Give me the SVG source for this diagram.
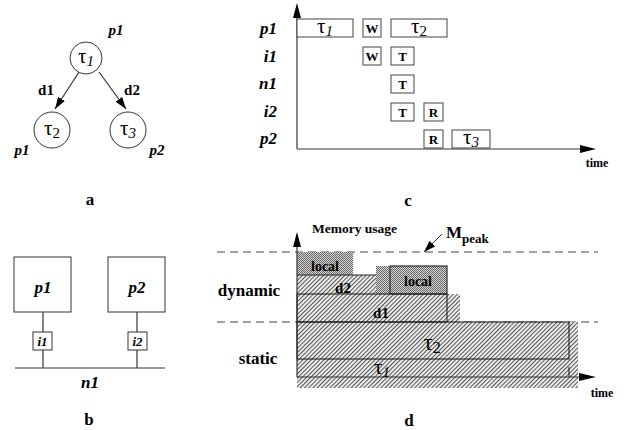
<svg xmlns="http://www.w3.org/2000/svg" width="629" height="430" viewBox="0 0 629 430">
<style>
text{font-family:"Liberation Serif","Times New Roman",serif;fill:#000}
.b{font-weight:bold}
.bi{font-weight:bold;font-style:italic}
.tau{font-size:21px}
.sub{font-size:15px}
.nd{fill:#fff;stroke:#333;stroke-width:1}
.ln{stroke:#333;stroke-width:1.2;fill:none}
.bx{fill:#fff;stroke:#444;stroke-width:1}
.bd{fill:none;stroke:#222;stroke-width:1.1}
.dash{stroke:#444;stroke-width:1;stroke-dasharray:8,5;fill:none}
</style>
<defs>
<marker id="ah" viewBox="0 0 12 8" refX="12" refY="4" markerWidth="12" markerHeight="8" markerUnits="userSpaceOnUse" orient="auto">
<path d="M0,0 L12,4 L0,8 Z" fill="#000"/>
</marker>
<pattern id="hatch" patternUnits="userSpaceOnUse" width="3" height="3" patternTransform="rotate(45)">
<rect width="3" height="3" fill="#f4f4f4"/><rect width="1.1" height="3" fill="#555"/>
</pattern>
<pattern id="cross" patternUnits="userSpaceOnUse" width="2" height="2">
<rect width="2" height="2" fill="#d6d6d6"/><rect width="1" height="1" fill="#666"/><rect x="1" y="1" width="1" height="1" fill="#666"/>
</pattern>
</defs>

<!-- Panel a -->
<g id="panel-a">
<g id="a-connectors">
<line class="ln" x1="79" y1="72" x2="55" y2="109" marker-end="url(#ah)"/>
<line class="ln" x1="99" y1="72" x2="126" y2="109" marker-end="url(#ah)"/>
<text class="b" x="46" y="95" font-size="15" text-anchor="middle">d1</text>
<text class="b" x="132" y="95" font-size="15" text-anchor="middle">d2</text>
</g>
<g id="a-tau1">
<circle class="nd" cx="86" cy="58" r="16"/>
<text class="tau" x="86" y="63" text-anchor="middle">τ<tspan class="sub" font-style="italic" dy="3">1</tspan></text>
<text class="bi" x="116" y="35" font-size="15" text-anchor="middle">p1</text>
</g>
<g id="a-tau2">
<circle class="nd" cx="52" cy="130" r="18"/>
<text class="tau" x="52" y="135" text-anchor="middle">τ<tspan class="sub" dy="3">2</tspan></text>
<text class="bi" x="22" y="155" font-size="15" text-anchor="middle">p1</text>
</g>
<g id="a-tau3">
<circle class="nd" cx="128" cy="130" r="18"/>
<text class="tau" x="128" y="135" text-anchor="middle">τ<tspan class="sub" font-style="italic" dy="3">3</tspan></text>
<text class="bi" x="157" y="155" font-size="15" text-anchor="middle">p2</text>
</g>
<text class="b" x="90" y="205" font-size="17" text-anchor="middle">a</text>
</g>

<!-- Panel b -->
<g id="panel-b">
<g id="b-connectors">
<line class="ln" x1="43" y1="312" x2="43" y2="332"/>
<line class="ln" x1="43" y1="350" x2="43" y2="368"/>
<line class="ln" x1="137" y1="312" x2="137" y2="332"/>
<line class="ln" x1="137" y1="350" x2="137" y2="368"/>
</g>
<g id="b-p1"><rect class="nd" x="14" y="257" width="57" height="55"/><text class="bi" x="43" y="293" font-size="17" text-anchor="middle">p1</text></g>
<g id="b-p2"><rect class="nd" x="108" y="257" width="57" height="55"/><text class="bi" x="137" y="293" font-size="17" text-anchor="middle">p2</text></g>
<g id="b-i1"><rect class="nd" x="33" y="332" width="19" height="18"/><text class="bi" x="42.5" y="346" font-size="13" text-anchor="middle">i1</text></g>
<g id="b-i2"><rect class="nd" x="128" y="332" width="19" height="18"/><text class="bi" x="137.5" y="346" font-size="13" text-anchor="middle">i2</text></g>
<g id="b-n1"><line class="ln" x1="15" y1="368" x2="165" y2="368"/><text class="bi" x="90" y="388" font-size="17" text-anchor="middle">n1</text></g>
<text class="b" x="89" y="425" font-size="17" text-anchor="middle">b</text>
</g>

<!-- Panel c -->
<g id="panel-c">
<line class="ln" x1="297" y1="149" x2="297" y2="15"/>
<path d="M297,3 L293,18 L301,18 Z" fill="#000"/>
<line class="ln" x1="297" y1="149" x2="582" y2="149"/>
<path d="M596,149 L580,145 L580,153 Z" fill="#000"/>
<text class="b" x="597" y="167" font-size="12" text-anchor="middle">time</text>
<g class="bi" font-size="17" text-anchor="end">
<text x="277" y="34">p1</text>
<text x="277" y="62">i1</text>
<text x="277" y="89">n1</text>
<text x="277" y="117">i2</text>
<text x="277" y="144">p2</text>
</g>
<rect class="bx" x="297" y="19" width="56" height="18"/>
<text class="tau" x="325" y="33" text-anchor="middle">τ<tspan class="sub" font-style="italic" dy="3">1</tspan></text>
<rect class="bx" x="363" y="19" width="18" height="18"/>
<rect class="bx" x="391" y="19" width="56" height="18"/>
<text class="tau" x="419" y="33" text-anchor="middle">τ<tspan class="sub" dy="3">2</tspan></text>
<rect class="bx" x="363" y="47" width="18" height="18"/>
<rect class="bx" x="391" y="47" width="23" height="18"/>
<rect class="bx" x="391" y="75" width="23" height="18"/>
<rect class="bx" x="391" y="103" width="23" height="18"/>
<rect class="bx" x="424" y="103" width="19" height="18"/>
<rect class="bx" x="424" y="130" width="19" height="18"/>
<rect class="bx" x="452" y="130" width="38" height="18"/>
<text class="tau" x="471" y="144" text-anchor="middle">τ<tspan class="sub" font-style="italic" dy="3">3</tspan></text>
<g class="b" font-size="13" text-anchor="middle">
<text x="372" y="33">W</text>
<text x="372" y="61">W</text>
<text x="402.5" y="61">T</text>
<text x="402.5" y="89">T</text>
<text x="402.5" y="117">T</text>
<text x="433.5" y="117">R</text>
<text x="433.5" y="144">R</text>
</g>
<text class="b" x="408" y="206" font-size="17" text-anchor="middle">c</text>
</g>

<!-- Panel d -->
<g id="panel-d">
<line class="dash" x1="217" y1="252" x2="598" y2="252"/>
<line class="dash" x1="217" y1="322" x2="598" y2="322"/>
<rect x="297" y="322" width="281" height="66" fill="url(#hatch)"/>
<rect x="297" y="294" width="163" height="28" fill="url(#hatch)"/>
<rect x="297" y="275" width="79" height="19" fill="url(#hatch)"/>
<rect x="297" y="252" width="56" height="23" fill="url(#cross)"/>
<rect x="376" y="266" width="71" height="28" fill="url(#cross)"/>
<line class="bd" x1="297" y1="275" x2="376" y2="275"/>
<rect class="bd" x="390" y="266" width="57" height="28"/>
<rect class="bd" x="297" y="294" width="150" height="28"/>
<rect class="bd" x="297" y="322" width="272" height="37"/>
<line class="bd" x1="569" y1="367" x2="569" y2="377"/>
<line class="ln" x1="297" y1="377" x2="297" y2="245"/>
<path d="M297,232 L293,247 L301,247 Z" fill="#000"/>
<line class="ln" x1="297" y1="377" x2="580" y2="377"/>
<path d="M596,377 L579,373 L579,381 Z" fill="#000"/>
<text class="b" x="602" y="397" font-size="12" text-anchor="middle">time</text>
<text class="b" x="312" y="233" font-size="13.5">Memory usage</text>
<line class="ln" x1="442" y1="234" x2="424" y2="252" marker-end="url(#ah)" style="stroke-width:1"/>
<text class="b" x="446" y="238" font-size="17">M<tspan font-size="13" dy="5">peak</tspan></text>
<text class="b" x="249" y="296" font-size="17" text-anchor="middle">dynamic</text>
<text class="b" x="258" y="364" font-size="17" text-anchor="middle">static</text>
<text class="b" x="325" y="271" font-size="14" text-anchor="middle">local</text>
<text class="b" x="418" y="286" font-size="14" text-anchor="middle">local</text>
<text class="b" x="343" y="293" font-size="15" text-anchor="middle">d2</text>
<text class="b" x="381" y="318" font-size="15" text-anchor="middle">d1</text>
<text class="tau" x="432" y="350" text-anchor="middle" style="font-size:23px">τ<tspan class="sub" style="font-size:16px" dy="3">2</tspan></text>
<text class="tau" x="382" y="374" text-anchor="middle">τ<tspan class="sub" font-style="italic" dy="3">1</tspan></text>
<text class="b" x="409" y="426" font-size="17" text-anchor="middle">d</text>
</g>
</svg>
